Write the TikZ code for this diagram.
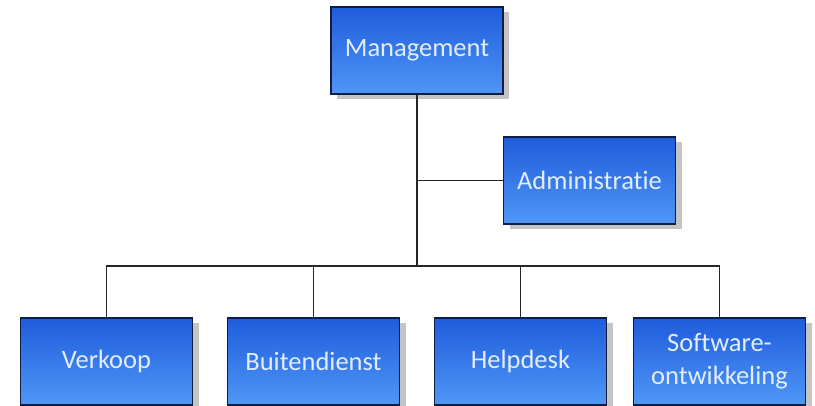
\documentclass[tikz,border=0pt]{standalone}
\usepackage{fontspec}
\setmainfont[Ligatures=NoCommon]{Carlito}
\usetikzlibrary{shadows}
\definecolor{boxtop}{HTML}{1F5CDC}
\definecolor{boxbot}{HTML}{4F97F6}
\definecolor{boxline}{HTML}{101C40}
\definecolor{boxtext}{HTML}{E2EEFF}
\definecolor{shadowgray}{HTML}{C4C4C4}
\tikzset{
  unit/.style={rectangle, draw=boxline, line width=1.3pt, top color=boxtop, bottom color=boxbot,
    minimum width=172pt, minimum height=87pt, inner sep=2pt, align=center, text=boxtext,
    font=\fontsize{26.5}{33}\selectfont,
    drop shadow={shadow xshift=6pt, shadow yshift=-5pt, fill=shadowgray, opacity=1}},
  link/.style={draw=black!85, line width=1.3pt}
}
\begin{document}
\begin{tikzpicture}[x=1pt,y=-1pt]
\useasboundingbox (0,0) rectangle (815,406);
\node[unit] (mg) at (417,50.5) {Management};
\node[unit] (adm) at (589.5,180.5) {Administratie};
\node[unit] (verk) at (106.5,361.5) {Verkoop};
\node[unit] (bd) at (313.5,361.5) {Buitendienst};
\node[unit] (hd) at (520.5,361.5) {Helpdesk};
\node[unit] (sw) at (719.5,361.5) {Software-\\ontwikkeling};
\coordinate (busy) at (0,266);
\draw[link] (mg.south) -- (mg.south |- busy);
\draw[link] (adm.west) -- (adm.west -| mg.south);
\draw[link] (verk.north) -- (verk.north |- busy) -- (sw.north |- busy) -- (sw.north);
\draw[link] (bd.north) -- (bd.north |- busy);
\draw[link] (hd.north) -- (hd.north |- busy);
\end{tikzpicture}
\end{document}
